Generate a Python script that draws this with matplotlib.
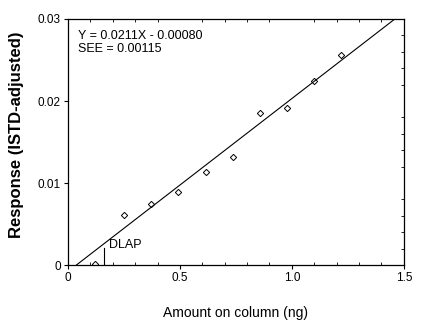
import numpy as np
import matplotlib
matplotlib.use("Agg")
import matplotlib.pyplot as plt
from matplotlib.ticker import MultipleLocator

plt.rcParams['font.family'] = ['Liberation Sans', 'DejaVu Sans']

# calibration points
amount = [0.12, 0.25, 0.37, 0.49, 0.616, 0.735, 0.857, 0.98, 1.10, 1.22]
response = [0.0001, 0.0061, 0.0074, 0.0089, 0.0114, 0.0132, 0.0185, 0.0192, 0.0224, 0.0256]

slope = 0.0211
intercept = -0.00080
dlap = 0.162
eq_text = "Y = 0.0211X - 0.00080\nSEE = 0.00115"

fig = plt.figure(figsize=(4.22, 3.22), dpi=100)
ax = fig.add_axes([0.161, 0.177, 0.796, 0.764])

# regression line, clipped between y = 0 and top of the axes
x0 = -intercept / slope
x1 = (0.03 - intercept) / slope
xs = np.array([x0, x1])
ax.plot(xs, slope * xs + intercept, color="black", lw=0.8)

ax.plot(amount, response, linestyle="none", marker="D", markersize=3.2,
        markerfacecolor="none", markeredgecolor="black", markeredgewidth=0.7)

# DLAP marker
ax.plot([dlap, dlap], [0, 0.0021], color="black", lw=0.8)
ax.text(dlap + 0.02, 0.0025, "DLAP", fontsize=9, va="center", ha="left")

ax.text(0.03, 0.955, eq_text, transform=ax.transAxes, fontsize=9,
        va="top", ha="left", linespacing=1.15)

ax.set_xlim(0, 1.5)
ax.set_ylim(0, 0.03)
ax.set_xticks([0, 0.5, 1.0, 1.5])
ax.set_xticklabels(["0", "0.5", "1.0", "1.5"])
ax.set_yticks([0, 0.01, 0.02, 0.03])
ax.set_yticklabels(["0", "0.01", "0.02", "0.03"])
ax.xaxis.set_minor_locator(MultipleLocator(0.1))
ax.yaxis.set_minor_locator(MultipleLocator(0.002))
ax.tick_params(axis="both", which="major", direction="out", length=3, width=0.8,
               labelsize=8.5, pad=2)
ax.tick_params(axis="x", which="minor", direction="in", length=2.5, top=True, bottom=True)
ax.tick_params(axis="y", which="minor", direction="in", length=2.5, left=False, right=True)
for s in ax.spines.values():
    s.set_linewidth(0.9)

ax.set_xlabel("Amount on column (ng)", fontsize=10, labelpad=16)
ax.set_ylabel("Response (ISTD-adjusted)", fontsize=12, fontweight="bold")
ax.yaxis.set_label_coords(-0.13, 0.53)

fig.savefig("out.png", dpi=100)
